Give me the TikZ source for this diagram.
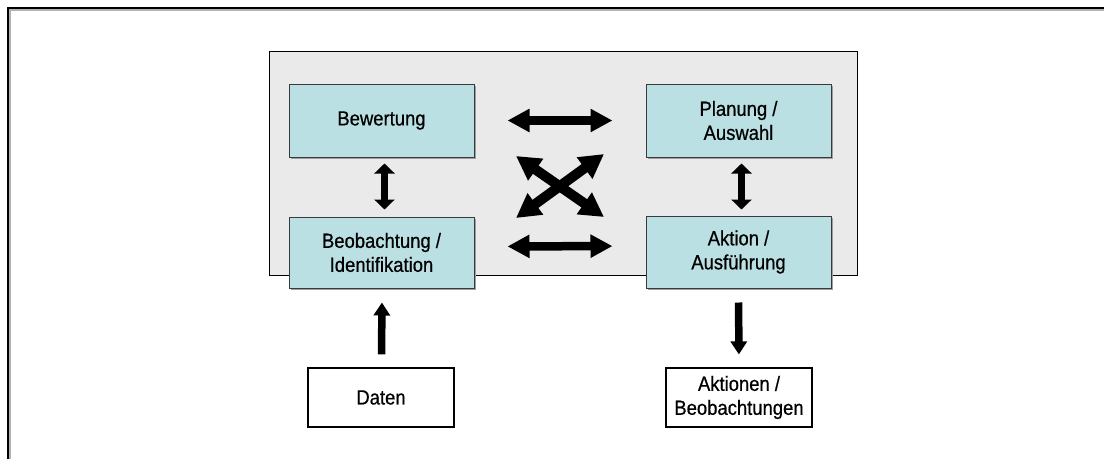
\documentclass[tikz,border=0pt]{standalone}
\usepackage{fontspec}
\setmainfont[FakeStretch=0.9, FakeBold=0.6]{Liberation Sans}
\usetikzlibrary{arrows.meta,shadows}
\definecolor{panelgray}{HTML}{EAEAEA}
\definecolor{boxcyan}{HTML}{BBE0E3}
\definecolor{boxline}{HTML}{3A3A3A}
\begin{document}
\begin{tikzpicture}[x=1pt,y=-1pt,
  every node/.style={font=\fontsize{20.5}{24}\selectfont, align=center, inner sep=0pt},
  stage/.style={draw=boxline, line width=1pt, fill=boxcyan, minimum width=185pt,
    general shadow={fill=gray!75, shadow xshift=1.5pt, shadow yshift=-1.5pt}},
  ioblock/.style={draw=black, line width=1.2pt, fill=white, minimum width=146pt, minimum height=59pt,
    general shadow={fill=gray!60, shadow xshift=1.2pt, shadow yshift=-1.2pt}},
  flow/.style={line width=7.5pt, -{Triangle[length=13pt,width=16pt]}},
  link/.style={line width=7pt, {Triangle[length=10pt,width=20pt]}-{Triangle[length=10pt,width=20pt]}},
  swap/.style={line width=8.5pt, {Triangle[length=22pt,width=22pt]}-{Triangle[length=22pt,width=22pt]}},
  crossing/.style={line width=10pt, {Triangle[length=24pt,width=25pt]}-{Triangle[length=24pt,width=25pt]}},
]
\useasboundingbox (0,0) rectangle (1104,459);

% outer frame (top and left edges)
\draw[gray!60, line width=2pt] (9.5,459) -- (9.5,9.5) -- (1104,9.5);
\draw[black, line width=2pt] (8,459) -- (8,8) -- (1104,8);

% grey panel
\draw[fill=panelgray, draw=black, line width=1pt] (269,51) rectangle (857,275);

% stages
\node[stage, minimum height=73pt] (bew) at (381.5,120.5) {Bewertung};
\node[stage, minimum height=71pt] (beo) at (381.5,252.5) {Beobachtung /\\Identifikation};
\node[stage, minimum height=73pt] (pla) at (738.5,120.5) {Planung /\\Auswahl};
\node[stage, minimum height=72pt] (akt) at (738.5,252) {Aktion /\\Ausführung};

% input and output
\node[ioblock] (dat) at (381,397.5) {Daten};
\node[ioblock] (out) at (739,397.5) {Aktionen /\\Beobachtungen};

% corner points of the crossing arrows
\coordinate (xa) at (516,156);
\coordinate (xb) at (604,217);
\coordinate (xc) at (516,218);
\coordinate (xd) at (604,154);

% connectors
\draw[flow, shorten <=13pt, shorten >=14pt] ([xshift=0.5pt]dat.north) -- ([xshift=0.5pt]beo.south);
\draw[flow, shorten <=14pt, shorten >=13pt] (akt.south) -- (out.north);
\draw[link, shorten <=6pt, shorten >=7pt] ([xshift=3pt]bew.south) -- ([xshift=3pt]beo.north);
\draw[link, shorten <=6pt, shorten >=6pt] ([xshift=3pt]pla.south) -- ([xshift=3pt]akt.north);
\draw[swap, shorten <=33pt, shorten >=33pt] (bew.east) -- (pla.west);
\draw[swap, shorten <=33pt, shorten >=33pt] ([yshift=6pt]beo.east) -- ([yshift=6pt]akt.west);
\draw[crossing] (xa) -- (xb);
\draw[crossing] (xc) -- (xd);
\end{tikzpicture}
\end{document}
